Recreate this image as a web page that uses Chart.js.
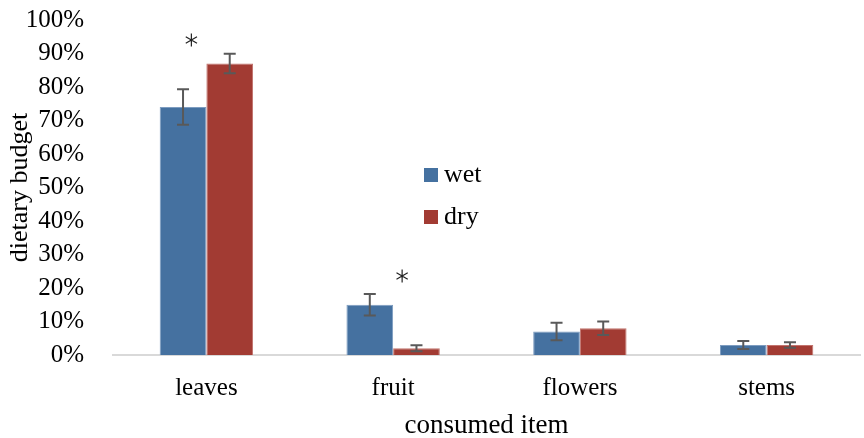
<!DOCTYPE html>
<html>
<head>
<meta charset="utf-8">
<script src="https://cdn.jsdelivr.net/npm/chart.js@4"></script>
<style>
  html, body { margin: 0; padding: 0; background: #fff; }
  #wrap { width: 864px; height: 438px; }
</style>
</head>
<body>
<div id="wrap"><canvas id="myChart"></canvas></div>
<script>
const items = ['leaves', 'fruit', 'flowers', 'stems'];
const wetValues = [74, 15, 7, 3];
const dryValues = [87, 2, 8, 3];
const wetErrors = [5.3, 3.2, 2.6, 1.2];
const dryErrors = [2.9, 0.9, 2, 0.8];
// asterisks (significant wet/dry difference), value level in %
const starLevels = [94, 23.6, null, null];

const FONT = "'Liberation Serif', 'Times New Roman', serif";
const starShift = [-15, 9, 0, 0];

const errorBars = {
  id: 'errorBars',
  afterDatasetsDraw(chart) {
    const ctx = chart.ctx;
    const y = chart.scales.y;
    const errs = [wetErrors, dryErrors];
    ctx.save();
    ctx.strokeStyle = '#595959';
    ctx.lineWidth = 2;
    chart.data.datasets.forEach((ds, di) => {
      const meta = chart.getDatasetMeta(di);
      meta.data.forEach((bar, i) => {
        const v = ds.data[i];
        const e = errs[di][i];
        const top = y.getPixelForValue(v + e);
        const bot = y.getPixelForValue(v - e);
        ctx.beginPath();
        ctx.moveTo(bar.x, top); ctx.lineTo(bar.x, bot);
        ctx.moveTo(bar.x - 6, top); ctx.lineTo(bar.x + 6, top);
        ctx.moveTo(bar.x - 6, bot); ctx.lineTo(bar.x + 6, bot);
        ctx.stroke();
      });
    });
    // asterisks as thin six-armed stars
    ctx.strokeStyle = '#222';
    ctx.lineWidth = 1.2;
    starLevels.forEach((s, i) => {
      if (s === null) return;
      const cx = chart.scales.x.getPixelForValue(i) + starShift[i];
      const cy = y.getPixelForValue(s);
      ctx.beginPath();
      [90, 30, 150].forEach(a => {
        const r = a * Math.PI / 180;
        ctx.moveTo(cx - 6.5 * Math.cos(r), cy - 6.5 * Math.sin(r));
        ctx.lineTo(cx + 6.5 * Math.cos(r), cy + 6.5 * Math.sin(r));
      });
      ctx.stroke();
    });
    ctx.restore();
  }
};

const midLegend = {
  id: 'midLegend',
  afterDraw(chart) {
    const ctx = chart.ctx;
    ctx.save();
    ctx.font = '26px ' + FONT;
    ctx.textBaseline = 'middle';
    ctx.textAlign = 'left';
    chart.data.datasets.forEach((ds, i) => {
      const yy = 175 + i * 42;
      ctx.fillStyle = ds.backgroundColor;
      ctx.fillRect(424, yy - 7, 14, 14);
      ctx.fillStyle = '#000';
      ctx.fillText(ds.label, 444, yy);
    });
    ctx.restore();
  }
};

const ctx = document.getElementById('myChart').getContext('2d');
const myChart = new Chart(ctx, {
  type: 'bar',
  data: {
    labels: items,
    datasets: [
      { label: 'wet', data: wetValues, backgroundColor: '#4571a0', borderColor: '#7d9cc0', borderWidth: 1 },
      { label: 'dry', data: dryValues, backgroundColor: '#a23b33', borderColor: '#c2736d', borderWidth: 1 }
    ]
  },
  options: {
    responsive: true,
    maintainAspectRatio: false,
    animation: false,
    datasets: { bar: { categoryPercentage: 0.5, barPercentage: 1.0 } },
    layout: { padding: { top: 20, right: 4, left: 0, bottom: 0 } },
    plugins: { legend: { display: false }, tooltip: { enabled: false } },
    scales: {
      x: {
        grid: { display: false, drawTicks: false },
        border: { color: '#d9d9d9', width: 2 },
        ticks: { color: '#000', font: { family: FONT, size: 25 }, padding: 18 },
        title: { display: true, text: 'consumed item', color: '#000', font: { family: FONT, size: 27 }, padding: { top: 0, bottom: -4 } },
        afterFit: s => { s.height = 83; }
      },
      y: {
        min: 0, max: 100,
        grid: { display: false, drawTicks: false },
        border: { display: false },
        ticks: { stepSize: 10, autoSkip: false, color: '#000', font: { family: FONT, size: 25 }, padding: 29,
          callback: v => v + '%' },
        title: { display: true, text: 'dietary budget', color: '#000', font: { family: FONT, size: 26 }, padding: { top: 5, bottom: 0 } },
        // tick padding would also pad the top; keep only the layout padding
        afterFit: s => { s.width = 113; s.paddingTop = 0; s.paddingBottom = 0; }
      }
    }
  },
  plugins: [errorBars, midLegend]
});
</script>
</body>
</html>
